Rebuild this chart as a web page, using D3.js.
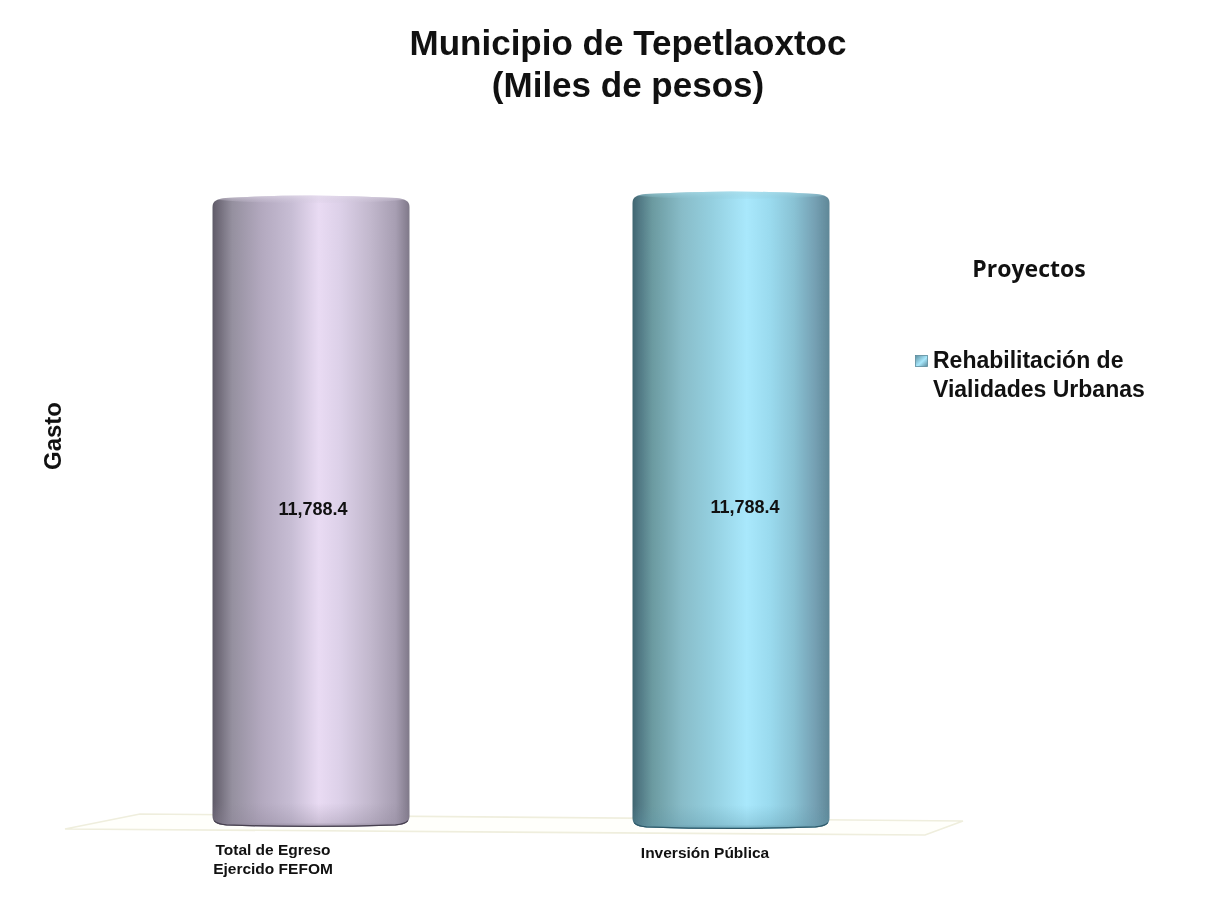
<!DOCTYPE html>
<html><head><meta charset="utf-8">
<script src="https://cdn.jsdelivr.net/npm/d3@7/dist/d3.min.js"></script>
<style>html,body{margin:0;padding:0;background:#fff;overflow:hidden}svg{display:block}text{font-family:"Liberation Sans",Arial,sans-serif;font-weight:bold;fill:#111;filter:blur(.4px)}</style>
</head><body><svg id="c" width="1209" height="907"></svg>
<script>
const titleLines = ["Municipio de Tepetlaoxtoc", "(Miles de pesos)"];
const categories = ["Total de Egreso|Ejercido FEFOM", "Inversión Pública"];
const values = [11788.4, 11788.4];
const legendTitle = "Proyectos";
const legendLines = ["Rehabilitación de", "Vialidades Urbanas"];
const yTitle = "Gasto";
const purpleStops = [[0,"#5f5a68"],[0.03,"#6f6a78"],[0.1,"#95909f"],[0.25,"#b3a9bf"],[0.4,"#c7bdd4"],[0.54,"#e9dbf3"],[0.65,"#dcd0e8"],[0.8,"#c2b8cd"],[0.93,"#a79eb2"],[1,"#7f7889"]];
const cyanStops = [[0,"#3f6470"],[0.03,"#4f7682"],[0.1,"#6b9aa0"],[0.25,"#88bcc8"],[0.4,"#94cfdf"],[0.58,"#a9e8fc"],[0.7,"#9adaee"],[0.82,"#89c2d4"],[0.93,"#749fb2"],[1,"#5f8797"]];
const baseColors = [["#47414f","#8b8296"],["#2f5a6a","#5e96a8"]];
const rimColors = [["#efe8f4","#cfc6da"],["#c2ecf5","#8cc6d6"]];

const svg = d3.select("#c");
const defs = svg.append("defs");
[purpleStops, cyanStops].forEach((stops, i) => {
  const g = defs.append("linearGradient").attr("id", "bar" + i);
  g.selectAll("stop").data(stops).join("stop")
    .attr("offset", d => d[0]).attr("stop-color", d => d[1]);
});
baseColors.forEach((c, i) => {
  const g = defs.append("linearGradient").attr("id", "base" + i).attr("x1",0).attr("x2",0).attr("y1",0).attr("y2",1);
  g.append("stop").attr("offset",0).attr("stop-color",c[1]).attr("stop-opacity",0);
  g.append("stop").attr("offset",0.75).attr("stop-color",c[1]).attr("stop-opacity",0.3);
  g.append("stop").attr("offset",0.9).attr("stop-color",c[1]).attr("stop-opacity",0.75);
  g.append("stop").attr("offset",1).attr("stop-color",c[0]);
});
rimColors.forEach((c, i) => {
  const g = defs.append("linearGradient").attr("id", "top" + i).attr("x1",0).attr("x2",0).attr("y1",0).attr("y2",1);
  g.append("stop").attr("offset",0).attr("stop-color",c[0]);
  g.append("stop").attr("offset",1).attr("stop-color",c[1]).attr("stop-opacity",0.1);
});
const lg = defs.append("linearGradient").attr("id","mark").attr("x1",0).attr("x2",1).attr("y1",0).attr("y2",1);
lg.append("stop").attr("offset",0).attr("stop-color","#5d8fa0");
lg.append("stop").attr("offset",0.55).attr("stop-color","#a9e8fc");
lg.append("stop").attr("offset",1).attr("stop-color","#5a8a9c");
defs.append("filter").attr("id","soft").append("feGaussianBlur").attr("stdDeviation",0.6);

// Floor plane
svg.append("path").attr("d", d3.line()([[65,829],[140,814],[963,821],[925,835]]) + "Z")
  .attr("fill","#fffffb").attr("stroke","#efeedd").attr("stroke-width",1.6);

const x = d3.scaleBand().domain(categories).range([101, 941]).paddingInner(0.531).paddingOuter(0.2655);
// The picture is drawn in slight perspective: each bar has its own floor and top line.
const yScales = [
  d3.scaleLinear().domain([0, values[0]]).range([827, 195]),
  d3.scaleLinear().domain([0, values[1]]).range([829, 191])
];

function cylinder(d, i) {
  const x0 = x(categories[i]), w = x.bandwidth(), x1 = x0 + w, c = x0 + w/2;
  const t = yScales[i](d), b = yScales[i](0);
  const p = d3.path();
  p.moveTo(x0, t + 12);
  p.bezierCurveTo(x0, t + 6, x0 + 4, t + 4, x0 + 13, t + 3);
  p.quadraticCurveTo(c, t - 2, x1 - 13, t + 3);
  p.bezierCurveTo(x1 - 4, t + 4, x1, t + 6, x1, t + 12);
  p.lineTo(x1, b - 11);
  p.bezierCurveTo(x1, b - 5, x1 - 4, b - 2.5, x1 - 14, b - 1.5);
  p.quadraticCurveTo(c, b + 1.5, x0 + 14, b - 1.5);
  p.bezierCurveTo(x0 + 4, b - 2.5, x0, b - 5, x0, b - 11);
  p.closePath();
  return p.toString();
}
function rimLine(d, i) {
  const x0 = x(categories[i]), w = x.bandwidth(), x1 = x0 + w, c = x0 + w/2, b = yScales[i](0);
  const p = d3.path();
  p.moveTo(x1 - 1, b - 6);
  p.quadraticCurveTo(x1 - 4, b - 2.5, x1 - 14, b - 1.5);
  p.quadraticCurveTo(c, b + 1.5, x0 + 14, b - 1.5);
  p.quadraticCurveTo(x0 + 4, b - 2.5, x0 + 1, b - 6);
  return p.toString();
}
values.forEach((d, i) => defs.append("clipPath").attr("id","clip"+i).append("path").attr("d", cylinder(d,i)));

const bars = svg.append("g").selectAll("g").data(values).join("g").attr("filter","url(#soft)");
bars.append("path").attr("d", cylinder).attr("fill", (d,i) => `url(#bar${i})`);
const inner = bars.append("g").attr("clip-path", (d,i) => `url(#clip${i})`);
inner.append("rect")
  .attr("x", (d,i) => x(categories[i]))
  .attr("y", (d,i) => yScales[i](0) - 24)
  .attr("width", x.bandwidth()).attr("height", 26)
  .attr("fill", (d,i) => `url(#base${i})`);
inner.append("ellipse")
  .attr("cx", (d,i) => x(categories[i]) + x.bandwidth()/2)
  .attr("cy", (d,i) => yScales[i](d) + 2)
  .attr("rx", x.bandwidth()*0.54).attr("ry", 6)
  .attr("fill", (d,i) => `url(#top${i})`);
inner.append("path").attr("d", rimLine).attr("fill","none")
  .attr("stroke", (d,i) => baseColors[i][0]).attr("stroke-width",2.5);

// Data labels
const fmt = d3.format(",.1f");
const labelDx = [2, 14], labelY = [515, 513];
svg.append("g").selectAll("text").data(values).join("text")
  .attr("x", (d,i) => x(categories[i]) + x.bandwidth()/2 + labelDx[i])
  .attr("y", (d,i) => labelY[i])
  .attr("text-anchor","middle").attr("font-size",18).text(d => fmt(d));

// Category axis
const axis = svg.append("g").attr("transform","translate(0,829)")
  .call(d3.axisBottom(x).tickSize(0).tickFormat(""));
axis.select(".domain").remove();
const tickDx = [-38, -26], tickY = [26, 29];
axis.selectAll(".tick text").each(function(d) {
  const i = categories.indexOf(d);
  const t = d3.select(this).attr("font-size",15.5).attr("text-anchor","middle")
    .attr("dy",null).attr("y",tickY[i]).attr("x",tickDx[i]);
  t.text(null);
  d.split("|").forEach((line, k) => {
    t.append("tspan").attr("x",tickDx[i]).attr("dy",k ? 18.5 : 0).text(line);
  });
});

// Title
svg.append("g").selectAll("text").data(titleLines).join("text")
  .attr("x",628).attr("y",(d,i) => 55 + i*42)
  .attr("text-anchor","middle").attr("font-size",35).text(d => d);

// Y title
svg.append("text").attr("transform","translate(61,436) rotate(-90)")
  .attr("text-anchor","middle").attr("font-size",24).text(yTitle);

// Legend
svg.append("text").attr("x",1029).attr("y",277).attr("text-anchor","middle")
  .attr("font-size",23).style("font-family",'"Open Sans"').text(legendTitle);
svg.append("rect").attr("x",915.5).attr("y",355.5).attr("width",12).attr("height",11)
  .attr("fill","url(#mark)").attr("stroke","#5a8a9c").attr("stroke-width",0.8);
svg.append("g").selectAll("text").data(legendLines).join("text")
  .attr("x",933).attr("y",(d,i) => 368 + i*29)
  .attr("font-size",23).text(d => d);
</script></body></html>
